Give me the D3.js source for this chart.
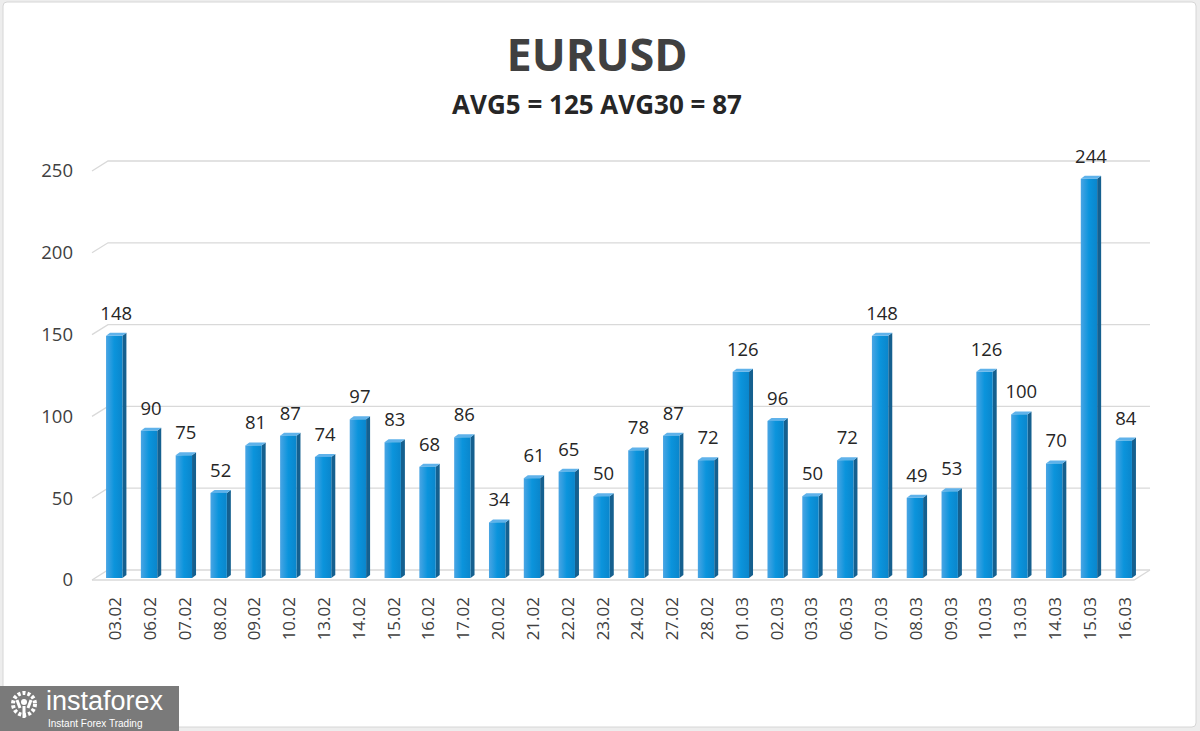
<!DOCTYPE html>
<html>
<head>
<meta charset="utf-8">
<script src="https://cdn.jsdelivr.net/npm/d3@7"></script>
<style>
  body { margin: 0; background: #ffffff; }
  svg { display: block; font-family: "Open Sans", sans-serif; }
</style>
</head>
<body>
<div id="chart"></div>
<script>
'use strict';

const dates = ["03.02", "06.02", "07.02", "08.02", "09.02", "10.02", "13.02", "14.02", "15.02", "16.02",
    "17.02", "20.02", "21.02", "22.02", "23.02", "24.02", "27.02", "28.02", "01.03", "02.03",
    "03.03", "06.03", "07.03", "08.03", "09.03", "10.03", "13.03", "14.03", "15.03", "16.03"];
const values = [148, 90, 75, 52, 81, 87, 74, 97, 83, 68,
    86, 34, 61, 65, 50, 78, 87, 72, 126, 96,
    50, 72, 148, 49, 53, 126, 100, 70, 244, 84];
const yTicks = [0, 50, 100, 150, 200, 250];
const title = "EURUSD";
const subtitle = "AVG5 = 125 AVG30 = 87";

const width = 1200, height = 731;
const depthX = 16, depthY = 10;

const svg = d3.select("#chart").append("svg")
    .attr("width", width)
    .attr("height", height);

const defs = svg.append("defs");
const grad = defs.append("linearGradient").attr("id", "barFront")
    .attr("x1", "0%").attr("x2", "100%").attr("y1", "0%").attr("y2", "0%");
grad.append("stop").attr("offset", "0%").attr("stop-color", "#4aa5e4");
grad.append("stop").attr("offset", "50%").attr("stop-color", "#0b94dc");
grad.append("stop").attr("offset", "100%").attr("stop-color", "#0a86cc");

// frame
svg.append("rect").attr("x", 0).attr("y", 0).attr("width", width).attr("height", height)
    .attr("fill", "#ededed");
svg.append("rect").attr("x", 3).attr("y", 2).attr("width", width - 7).attr("height", height - 6)
    .attr("rx", 4).attr("fill", "#ffffff").attr("stroke", "#d6d6d6");

svg.append("text").attr("x", 597).attr("y", 71)
    .attr("text-anchor", "middle").attr("font-size", 45).attr("font-weight", 700)
    .attr("fill", "#404040").text(title);
svg.append("text").attr("x", 597).attr("y", 114)
    .attr("text-anchor", "middle").attr("font-size", 26).attr("font-weight", 700)
    .attr("fill", "#262626").text(subtitle);

const x = d3.scaleBand().domain(dates).range([97, 1141]).paddingInner(0.53).paddingOuter(0.26);
const y = d3.scaleLinear().domain([0, 250]).range([578, 169]);

const left = 92, right = 1134;

// gridlines (back wall + left wall slant)
const grid = svg.append("g").attr("stroke", "#d9d9d9").attr("stroke-width", 1.3).attr("fill", "none");
yTicks.forEach(function (v) {
    const yy = y(v) + 2;
    grid.append("path")
        .attr("d", "M" + left + "," + yy + "L" + (left + depthX) + "," + (yy - depthY) +
            "L" + (right + depthX) + "," + (yy - depthY));
});
// floor front edge
grid.append("path")
    .attr("d", "M" + left + "," + (y(0) + 2) + "L" + right + "," + (y(0) + 2) +
        "L" + (right + depthX) + "," + (y(0) + 2 - depthY));

// y axis labels
svg.append("g").selectAll("text").data(yTicks).enter().append("text")
    .attr("x", 73).attr("y", function (d) { return y(d) + 2; })
    .attr("dy", "0.35em").attr("text-anchor", "end")
    .attr("font-size", 18.5).attr("fill", "#404040")
    .text(function (d) { return d; });

// bars
const bw = x.bandwidth();
const side = 4, topH = 3;
const bars = svg.append("g").selectAll("g").data(values).enter().append("g");

bars.append("path")
    .attr("fill", "#15608f")
    .attr("d", function (d, i) {
        const x0 = x(dates[i]) + bw, t = y(d), b = y(0);
        return "M" + x0 + "," + t + "L" + (x0 + side) + "," + (t - topH) +
            "L" + (x0 + side) + "," + (b - topH) + "L" + x0 + "," + b + "Z";
    });
bars.append("path")
    .attr("fill", "#5fb2ea")
    .attr("d", function (d, i) {
        const x0 = x(dates[i]), t = y(d);
        return "M" + x0 + "," + t + "L" + (x0 + side) + "," + (t - topH) +
            "L" + (x0 + bw + side) + "," + (t - topH) + "L" + (x0 + bw) + "," + t + "Z";
    });
bars.append("rect")
    .attr("x", function (d, i) { return x(dates[i]); })
    .attr("y", function (d) { return y(d); })
    .attr("width", bw)
    .attr("height", function (d) { return y(0) - y(d); })
    .attr("fill", "url(#barFront)");

// value labels
svg.append("g").selectAll("text").data(values).enter().append("text")
    .attr("x", function (d, i) { return x(dates[i]) + bw / 2 + 2; })
    .attr("y", function (d) { return y(d) - 16; })
    .attr("text-anchor", "middle").attr("font-size", 18.5).attr("fill", "#262626")
    .text(function (d) { return d; });

// date labels
svg.append("g").selectAll("text").data(dates).enter().append("text")
    .attr("transform", function (d) {
        return "translate(" + (x(d) + bw / 2 + 1) + ",597) rotate(-90)";
    })
    .attr("dy", "0.35em").attr("text-anchor", "end")
    .attr("font-size", 17).attr("fill", "#404040")
    .text(function (d) { return d; });

// logo
const logo = svg.append("g");
logo.append("rect").attr("x", 0).attr("y", 686).attr("width", 179).attr("height", 45).attr("fill", "#7a7a7a");
logo.append("circle").attr("cx", 24).attr("cy", 704).attr("r", 11).attr("fill", "none")
    .attr("stroke", "#ffffff").attr("stroke-width", 4).attr("stroke-dasharray", "3 2");
logo.append("circle").attr("cx", 24).attr("cy", 702).attr("r", 3).attr("fill", "#ffffff");
logo.append("path").attr("d", "M24,706 L24,718 M17,700 L20,708 M31,700 L28,708")
    .attr("stroke", "#ffffff").attr("stroke-width", 3);
logo.append("text").attr("x", 46).attr("y", 710).attr("font-size", 27).attr("fill", "#ffffff")
    .attr("font-family", "Arial, Liberation Sans, sans-serif").text("instaforex");
logo.append("text").attr("x", 48).attr("y", 727).attr("font-size", 10).attr("fill", "#ffffff")
    .attr("font-family", "Arial, Liberation Sans, sans-serif").text("Instant Forex Trading");
</script>
</body>
</html>
